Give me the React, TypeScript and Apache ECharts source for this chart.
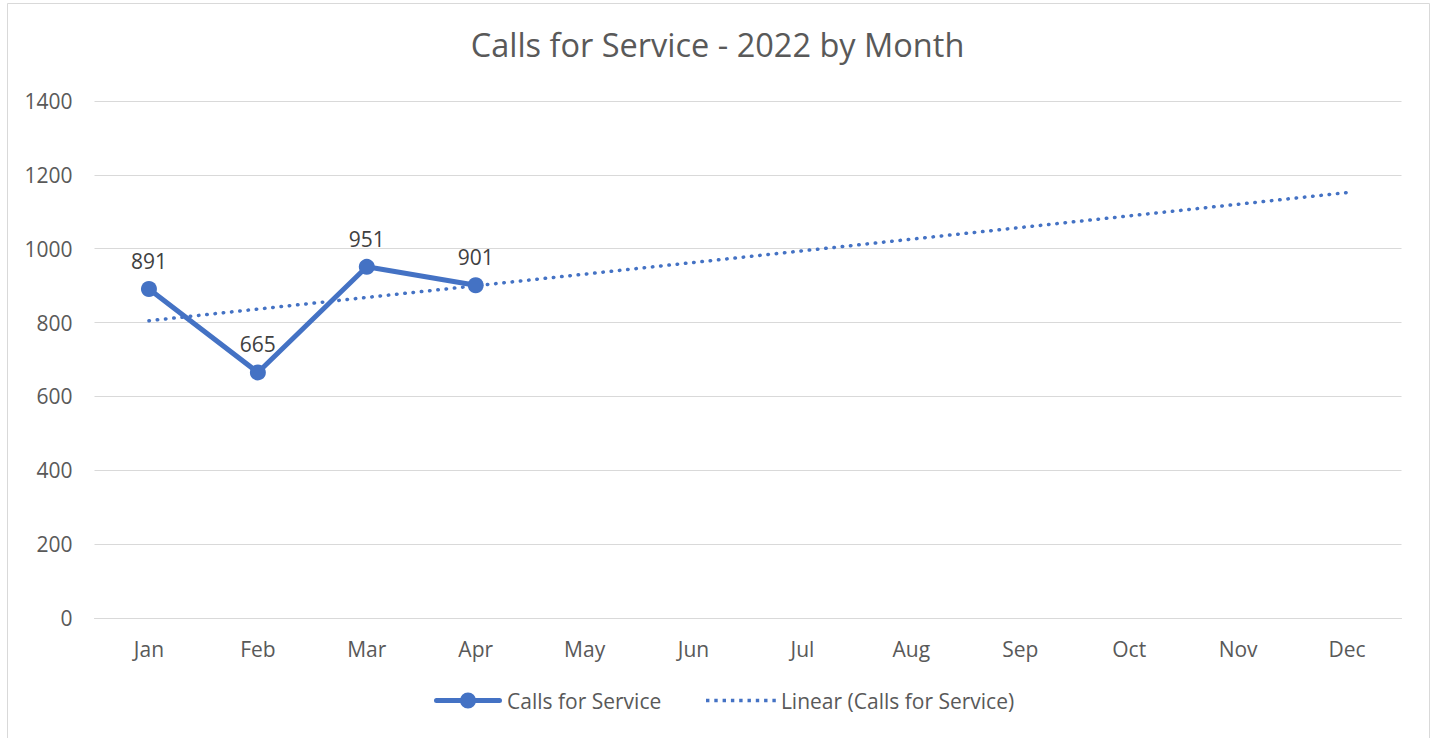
import React, { useEffect, useRef } from "react";
import * as echarts from "echarts";

const months = ["Jan", "Feb", "Mar", "Apr", "May", "Jun", "Jul", "Aug", "Sep", "Oct", "Nov", "Dec"];
const calls: (number | null)[] = [891, 665, 951, 901, null, null, null, null, null, null, null, null];
// Trendline end points (Jan and Dec)
const trend: (number | null)[] = [805, null, null, null, null, null, null, null, null, null, null, 1152];
const yTicks = { min: 0, max: 1400, interval: 200 };

const BLUE = "#4472C4";
const FONT = "'Open Sans', 'Noto Sans', sans-serif";

const lineIcon =
  "path://M2.5,5.5 H65.5 A2.5,2.5 0 0,1 65.5,10.5 H2.5 A2.5,2.5 0 0,1 2.5,5.5 Z " +
  "M26,8 A8,8 0 1,1 42,8 A8,8 0 1,1 26,8 Z";

function dottedIcon(): string {
  let d = "path://";
  for (let i = 0; i < 9; i++) {
    const x = i * 8.3;
    d += `M${x.toFixed(2)},0 h3.4 v3.4 h-3.4 Z `;
  }
  return d;
}

export default function App() {
  const ref = useRef<HTMLDivElement>(null);
  useEffect(() => {
    if (!ref.current) return;
    const chart = echarts.init(ref.current, undefined, { renderer: "svg" });
    chart.setOption({
      animation: false,
      backgroundColor: "#ffffff",
      title: {
        text: "Calls for Service - 2022 by Month",
        left: "center",
        top: 23,
        textStyle: { color: "#595959", fontSize: 32.5, fontWeight: "normal", fontFamily: FONT },
      },
      graphic: [
        {
          type: "rect",
          shape: { x: 7.5, y: 3.5, width: 1422, height: 745 },
          style: { fill: "none", stroke: "#d9d9d9", lineWidth: 1 },
          silent: true,
        },
      ],
      grid: { left: 94.5, right: 33.5, top: 101, bottom: 120, containLabel: false },
      legend: [
        {
          left: 429,
          top: 685,
          itemWidth: 68,
          itemHeight: 16,
          itemGap: 8,
          textStyle: { color: "#595959", fontSize: 21, fontFamily: FONT },
          data: [{ name: "Calls for Service", icon: lineIcon }],
        },
        {
          left: 701,
          top: 685,
          itemWidth: 70,
          itemHeight: 3.4,
          textStyle: { color: "#595959", fontSize: 21, fontFamily: FONT },
          data: [{ name: "Linear (Calls for Service)", icon: dottedIcon() }],
        },
      ],
      xAxis: {
        type: "category",
        data: months,
        boundaryGap: true,
        axisLine: { show: true, lineStyle: { color: "#d9d9d9", width: 1 } },
        axisTick: { show: false },
        axisLabel: { color: "#595959", fontSize: 21, fontFamily: FONT, margin: 20 },
      },
      yAxis: {
        type: "value",
        min: yTicks.min,
        max: yTicks.max,
        interval: yTicks.interval,
        axisLine: { show: false },
        axisTick: { show: false },
        splitLine: { lineStyle: { color: "#d9d9d9", width: 1 } },
        axisLabel: {
          color: "#595959",
          fontSize: 21,
          fontFamily: FONT,
          margin: 22,
          formatter: (v: number) => String(v),
        },
      },
      series: [
        {
          name: "Linear (Calls for Service)",
          type: "line",
          data: trend,
          connectNulls: true,
          symbol: "none",
          lineStyle: { color: BLUE, width: 3.5, type: [0.5, 7.8], cap: "round" },
          itemStyle: { color: BLUE },
          z: 1,
        },
        {
          name: "Calls for Service",
          type: "line",
          data: calls,
          symbol: "circle",
          symbolSize: 16,
          lineStyle: { color: BLUE, width: 5 },
          itemStyle: { color: BLUE },
          label: {
            show: true,
            position: "top",
            distance: 9.5,
            color: "#404040",
            fontSize: 21,
            fontFamily: FONT,
          },
          z: 3,
        },
      ],
    });
    return () => chart.dispose();
  }, []);
  return (
    <div
      ref={ref}
      style={{ position: "fixed", left: 0, top: 0, width: 1435, height: 738 }}
    />
  );
}
